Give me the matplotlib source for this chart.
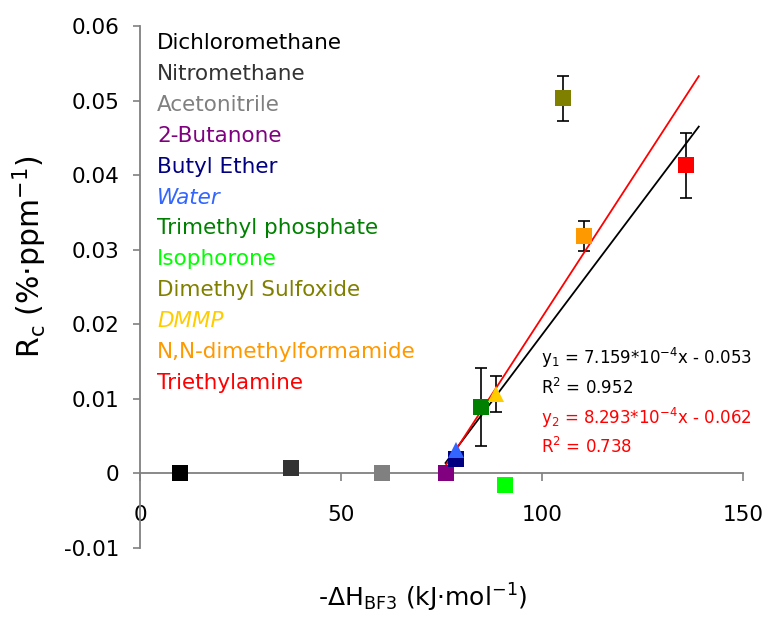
import numpy as np
import matplotlib
matplotlib.use('Agg')
import matplotlib.pyplot as plt

# the reference text is a wide Arial; DejaVu Sans matches its width best
plt.rcParams['font.family'] = ['DejaVu Sans']
plt.rcParams['mathtext.fontset'] = 'dejavusans'
plt.rcParams['mathtext.default'] = 'rm'

# solvents, in legend order
names = ['Dichloromethane', 'Nitromethane', 'Acetonitrile', '2-Butanone', 'Butyl Ether',
         'Water', 'Trimethyl phosphate', 'Isophorone', 'Dimethyl Sulfoxide', 'DMMP',
         'N,N-dimethylformamide', 'Triethylamine']
dH = [10.0, 37.6, 60.2, 76.1, 78.6, 78.5, 84.8, 90.8, 105.2, 88.5, 110.4, 135.8]
Rc = [0.0, 0.0007, 0.0, 0.0, 0.0020, 0.0031, 0.0089, -0.0015, 0.0503, 0.0106, 0.0318, 0.0413]
err = [0, 0, 0, 0, 0, 0, 0.0052, 0, 0.0030, 0.0024, 0.0020, 0.0044]
colors = ['#000000', '#333333', '#808080', '#800080', '#000080', '#3366FF',
          '#008000', '#00FF00', '#808000', '#FFCC00', '#FF9900', '#FF0000']
markers = ['s', 's', 's', 's', 's', '^', 's', 's', 's', '^', 's', 's']
italic = ['Water', 'DMMP']

# linear fits
slopes = [7.159e-4, 8.293e-4]
intercepts = [-0.053, -0.062]
fit_colors = ['black', 'red']
fit_x = [76, 139]
fit_text = [r'y$_1$ = 7.159*10$^{-4}$x - 0.053', r'R$^2$ = 0.952',
            r'y$_2$ = 8.293*10$^{-4}$x - 0.062', r'R$^2$ = 0.738']
fit_text_colors = ['black', 'black', 'red', 'red']

fig = plt.figure(figsize=(7.67, 6.19), dpi=100)
ax = fig.add_axes([140/767, 1 - 548/619, 603/767, 522/619])

for i in range(len(names)):
    if err[i] > 0:
        ax.errorbar(dH[i], Rc[i], yerr=err[i], fmt='none', ecolor='black',
                    elinewidth=1.2, capsize=4, capthick=1.2, zorder=3)

for k in range(2):
    xs = np.array(fit_x)
    ax.plot(xs, slopes[k] * xs + intercepts[k], color=fit_colors[k], lw=1.3, zorder=4)

for i in range(len(names)):
    ax.plot(dH[i], Rc[i], marker=markers[i], color=colors[i], markersize=12,
            markeredgewidth=0, linestyle='None', zorder=5)

ax.set_xlim(0, 150)
ax.set_ylim(-0.01, 0.06)
ax.set_xticks([0, 50, 100, 150])
ax.set_yticks([-0.01, 0, 0.01, 0.02, 0.03, 0.04, 0.05, 0.06])
ax.set_xticklabels(['0', '50', '100', '150'])
ax.set_yticklabels(['-0.01', '0', '0.01', '0.02', '0.03', '0.04', '0.05', '0.06'])
ax.spines['bottom'].set_position(('data', 0))
ax.spines['top'].set_visible(False)
ax.spines['right'].set_visible(False)
for s in ['left', 'bottom']:
    ax.spines[s].set_color('#808080')
    ax.spines[s].set_linewidth(1.3)
ax.tick_params(axis='x', direction='out', length=5.5, width=1.2, color='#808080',
               pad=17, labelsize=15.5)
ax.tick_params(axis='y', direction='out', length=5, width=1.2, color='#808080',
               pad=10, labelsize=15.5)
ax.patch.set_visible(False)

# legend as coloured text
for i, name in enumerate(names):
    fig.text(157/767, 1 - (43 + 30.9 * i)/619, name, color=colors[i], fontsize=15.5,
             style='italic' if name in italic else 'normal', va='center', ha='left')

for j, t in enumerate(fit_text):
    fig.text(541/767, 1 - (358 + 29.8 * j)/619, t, color=fit_text_colors[j],
             fontsize=12, va='center', ha='left')

fig.text(30/767, 1 - 257/619, r'R$_\mathrm{c}$ (%·ppm$^{-1}$)', rotation=90,
         fontsize=21.5, va='center', ha='center')
fig.text(423/767, 1 - 598/619, r'-ΔH$_\mathrm{BF3}$ (kJ·mol$^{-1}$)',
         fontsize=18, va='center', ha='center')

fig.savefig('out.png', dpi=100)
